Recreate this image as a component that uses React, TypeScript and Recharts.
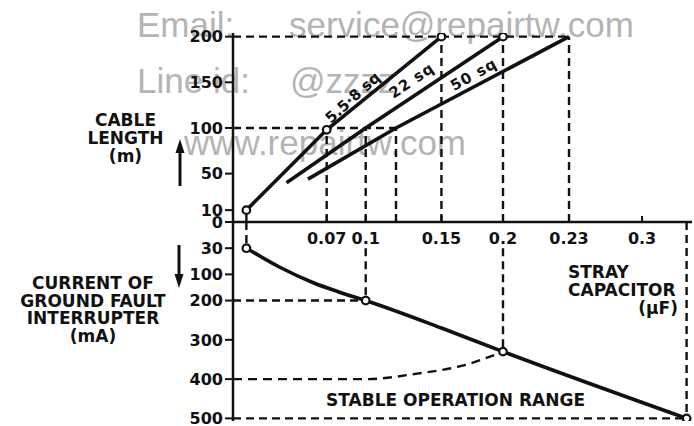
import React from 'react';
import { ComposedChart, Line, Scatter, XAxis, YAxis, ReferenceLine } from 'recharts';

// ---------------- data ----------------
// stray capacitor axis (µF)
const CAP_TICKS = [0.07, 0.1, 0.15, 0.2, 0.23, 0.3];
const CAP_TICK_LABELS = ['0.07', '0.1', '0.15', '0.2', '0.23', '0.3'];
// cable length axis (m)
const LEN_TICKS = [10, 50, 100, 150, 200];
// ground fault interrupter current axis (mA)
const CUR_TICKS = [0, 30, 100, 200, 300, 400, 500];

// cable length vs stray capacitor, per cable size
const CAP_558 = [0.01, 0.07, 0.15];
const LEN_558 = [10, 98, 200];
const CAP_22 = [0.04, 0.1, 0.2];
const LEN_22 = [40, 100, 200];
const CAP_50 = [0.056, 0.12, 0.23];
const LEN_50 = [44, 100, 200];

// interrupter current vs stray capacitor
const CAP_CURRENT = [0.01, 0.035, 0.06, 0.08, 0.1, 0.15, 0.2, 0.333];
const CURRENT_MA = [30, 81, 132, 168, 200, 270, 330, 500];

// boundary of the stable operation range
const CAP_STABLE = [0, 0.1, 0.134, 0.168, 0.2];
const STABLE_MA = [400, 400, 386, 365, 330];

// marked points (open circles)
const MARK_CAP_TOP = [0.01, 0.07, 0.15, 0.2];
const MARK_LEN_TOP = [10, 98, 200, 200];
const MARK_CAP_BOTTOM = [0.01, 0.1, 0.2, 0.333];
const MARK_MA_BOTTOM = [30, 200, 330, 500];

// dashed guide lines
const GUIDE_CAP_TOP = [0.01, 0.07, 0.1, 0.12, 0.15, 0.2, 0.23];
const GUIDE_LEN_TOP = [10, 100, 100, 100, 200, 200, 200];
const GUIDE_LEN_H = [200, 100];
const GUIDE_LEN_H_TO = [0.23, 0.12];
const GUIDE_CAP_BOTTOM = [0.01, 0.1, 0.2, 0.333];
const GUIDE_MA_BOTTOM_FROM = [0, 30, 30, 0];
const GUIDE_MA_BOTTOM = [30, 200, 330, 500];
const GUIDE_MA_H = [200, 500];
const GUIDE_MA_H_TO = [0.1, 0.333];

// ---------------- non-uniform axis scales of the original drawing ----------------
const CAP_STOPS = [0, 0.07, 0.1, 0.15, 0.2, 0.23, 0.3, 0.4];
const CAP_STOP_AT = [0, 0.0694, 0.0983, 0.1544, 0.2, 0.2489, 0.303, 0.403];
const CUR_STOP_AT = [0, 1, 2, 3, 4.5, 6, 7.5];

function interp(v: number, xs: number[], ys: number[]) {
  let i = 0;
  while (i < xs.length - 2 && v > xs[i + 1]) i++;
  const t = (v - xs[i]) / (xs[i + 1] - xs[i]);
  return ys[i] + t * (ys[i + 1] - ys[i]);
}
const capPos = (c: number) => interp(c, CAP_STOPS, CAP_STOP_AT);
const curPos = (m: number) => interp(m, CUR_TICKS, CUR_STOP_AT);

const X_MAX = 0.34;
const LEN_MIN = -3;
const LEN_MAX = 204;
const CUR_SLOT_MAX = 7.6;

const BLACK = '#111';
const FONT = "'DejaVu Sans', sans-serif";

const pairs = (xs: number[], ys: number[], fy: (v: number) => number) =>
  xs.map((c, i) => ({ x: capPos(c), y: fy(ys[i]) }));
const ident = (v: number) => v;

const nearestLabel = (v: number, ticks: number[], labels: string[]) => {
  let best = 0;
  ticks.forEach((t, i) => {
    if (Math.abs(t - v) < Math.abs(ticks[best] - v)) best = i;
  });
  return labels[best];
};

const CAP_TICK_POS = CAP_TICKS.map(capPos);
const CUR_TICK_POS = CUR_TICKS.map(curPos);

const CapTick = (props: any) => {
  const { x, y, payload } = props;
  return (
    <g>
      <line x1={x} x2={x} y1={y} y2={y - 6} stroke={BLACK} strokeWidth={2} />
      <text x={x} y={y + 22} textAnchor="middle" fill={BLACK} fontSize={16} fontWeight="bold" fontFamily={FONT}>
        {nearestLabel(payload.value, CAP_TICK_POS, CAP_TICK_LABELS)}
      </text>
    </g>
  );
};

const OpenCircle = (props: any) => (
  <circle cx={props.cx} cy={props.cy} r={3.8} fill="#fff" stroke={BLACK} strokeWidth={2.2} />
);

const dash = { stroke: BLACK, strokeWidth: 2.4, strokeDasharray: '8 5' };
const tickStyle = { fill: BLACK, fontSize: 16, fontWeight: 'bold', fontFamily: FONT };
const SOLID_W = 3.6;

const abs = (s: React.CSSProperties): React.CSSProperties => ({ position: 'absolute', ...s });

export default function App() {
  const line558 = pairs(CAP_558, LEN_558, ident);
  const line22 = pairs(CAP_22, LEN_22, ident);
  const line50 = pairs(CAP_50, LEN_50, ident);
  const marksTop = pairs(MARK_CAP_TOP, MARK_LEN_TOP, ident);
  const currentLine = pairs(CAP_CURRENT, CURRENT_MA, curPos);
  const stableLine = pairs(CAP_STABLE, STABLE_MA, curPos);
  const marksBottom = pairs(MARK_CAP_BOTTOM, MARK_MA_BOTTOM, curPos);

  const labelStyle: React.CSSProperties = {
    fontFamily: FONT,
    fontWeight: 'bold',
    fontSize: 17,
    color: BLACK,
    whiteSpace: 'nowrap',
  };
  const wm: React.CSSProperties = {
    fontFamily: "'Liberation Sans', Arial, sans-serif",
    fontSize: 35,
    lineHeight: '35px',
    color: '#b4b4b4',
    whiteSpace: 'nowrap',
  };
  const rot = (deg: number): React.CSSProperties => ({
    ...labelStyle,
    fontSize: 15,
    lineHeight: '15px',
    transform: `translate(-50%, -50%) rotate(${deg}deg)`,
  });

  return (
    <div style={abs({ left: 0, top: 0, width: 694, height: 426, background: '#fff', overflow: 'hidden' })}>
      {/* watermark */}
      <div style={abs({ ...wm, left: 137, top: 7 })}>Email:</div>
      <div style={abs({ ...wm, left: 289, top: 7 })}>service@repairtw.com</div>
      <div style={abs({ ...wm, left: 137, top: 63 })}>Line id:</div>
      <div style={abs({ ...wm, left: 290, top: 63 })}>@zzzz</div>
      <div style={abs({ ...wm, left: 184, top: 125 })}>www.repairtw.com</div>

      {/* lower panel: interrupter current */}
      <div style={abs({ left: 0, top: 0 })}>
        <ComposedChart width={694} height={426} margin={{ top: 222, right: 2, bottom: 5, left: 183 }}>
          <XAxis type="number" dataKey="x" domain={[0, X_MAX]} hide allowDataOverflow />
          <YAxis
            type="number"
            dataKey="y"
            reversed
            domain={[0, CUR_SLOT_MAX]}
            ticks={CUR_TICK_POS}
            interval={0}
            width={50}
            tickSize={8}
            tickMargin={2}
            tick={tickStyle}
            tickFormatter={(v: number) => nearestLabel(v, CUR_TICK_POS, CUR_TICKS.map(String))}
            axisLine={{ stroke: BLACK, strokeWidth: 2.5 }}
            tickLine={{ stroke: BLACK, strokeWidth: 2 }}
            allowDataOverflow
          />
          {GUIDE_MA_H.map((m, i) => (
            <ReferenceLine
              key={'mh' + i}
              segment={[{ x: 0, y: curPos(m) }, { x: capPos(GUIDE_MA_H_TO[i]), y: curPos(m) }]}
              {...dash}
            />
          ))}
          {GUIDE_CAP_BOTTOM.map((c, i) => (
            <ReferenceLine
              key={'mv' + i}
              segment={[
                { x: capPos(c), y: curPos(GUIDE_MA_BOTTOM_FROM[i]) },
                { x: capPos(c), y: curPos(GUIDE_MA_BOTTOM[i]) },
              ]}
              {...dash}
            />
          ))}
          <Line
            data={stableLine}
            dataKey="y"
            type="monotone"
            stroke={BLACK}
            strokeWidth={2.4}
            strokeDasharray="9 6"
            dot={false}
            isAnimationActive={false}
          />
          <Line
            data={currentLine}
            dataKey="y"
            type="monotone"
            stroke={BLACK}
            strokeWidth={SOLID_W}
            dot={false}
            isAnimationActive={false}
          />
          <Scatter data={marksBottom} dataKey="y" shape={OpenCircle} isAnimationActive={false} />
        </ComposedChart>
      </div>

      {/* upper panel: cable length */}
      <div style={abs({ left: 0, top: 0 })}>
        <ComposedChart width={694} height={426} margin={{ top: 33, right: 2, bottom: 180, left: 183 }}>
          <XAxis
            type="number"
            dataKey="x"
            domain={[0, X_MAX]}
            ticks={CAP_TICK_POS}
            interval={0}
            height={24}
            tickSize={0}
            tickMargin={0}
            tickLine={false}
            tick={(p: any) => <CapTick {...p} />}
            axisLine={{ stroke: BLACK, strokeWidth: 2.5 }}
            allowDataOverflow
          />
          <YAxis
            type="number"
            dataKey="y"
            domain={[LEN_MIN, LEN_MAX]}
            ticks={LEN_TICKS}
            interval={0}
            width={50}
            tickSize={8}
            tickMargin={2}
            tick={tickStyle}
            axisLine={{ stroke: BLACK, strokeWidth: 2.5 }}
            tickLine={{ stroke: BLACK, strokeWidth: 2 }}
            allowDataOverflow
          />
          {GUIDE_LEN_H.map((l, i) => (
            <ReferenceLine
              key={'lh' + i}
              segment={[{ x: 0, y: l }, { x: capPos(GUIDE_LEN_H_TO[i]), y: l }]}
              {...dash}
            />
          ))}
          {GUIDE_CAP_TOP.map((c, i) => (
            <ReferenceLine
              key={'lv' + i}
              segment={[{ x: capPos(c), y: LEN_MIN }, { x: capPos(c), y: GUIDE_LEN_TOP[i] }]}
              {...dash}
            />
          ))}
          <Line data={line558} dataKey="y" type="linear" stroke={BLACK} strokeWidth={SOLID_W} dot={false} isAnimationActive={false} />
          <Line data={line22} dataKey="y" type="linear" stroke={BLACK} strokeWidth={SOLID_W} dot={false} isAnimationActive={false} />
          <Line data={line50} dataKey="y" type="linear" stroke={BLACK} strokeWidth={SOLID_W} dot={false} isAnimationActive={false} />
          <Scatter data={marksTop} dataKey="y" shape={OpenCircle} isAnimationActive={false} />
        </ComposedChart>
      </div>

      {/* annotations */}
      <div style={abs({ ...labelStyle, left: 65, top: 111, width: 121, textAlign: 'center', lineHeight: '18px' })}>
        CABLE
        <br />
        LENGTH
        <br />
        (m)
      </div>
      <div style={abs({ ...labelStyle, left: 0, top: 275, width: 186, textAlign: 'center', lineHeight: '17.7px' })}>
        CURRENT OF
        <br />
        GROUND FAULT
        <br />
        INTERRUPTER
        <br />
        (mA)
      </div>
      <div style={abs({ ...labelStyle, left: 568, top: 263, width: 110, lineHeight: '18px' })}>
        STRAY
        <br />
        CAPACITOR
        <div style={{ textAlign: 'right' }}>(μF)</div>
      </div>
      <div style={abs({ ...labelStyle, left: 326, top: 391, lineHeight: '18px' })}>STABLE OPERATION RANGE</div>
      <div style={abs({ ...rot(-42), left: 353, top: 98 })}>5.5·8 sq</div>
      <div style={abs({ ...rot(-34), left: 412, top: 81, letterSpacing: 1 })}>22 sq</div>
      <div style={abs({ ...rot(-29), left: 474, top: 75, letterSpacing: 1 })}>50 sq</div>

      {/* direction arrows beside the axis titles */}
      <svg style={abs({ left: 0, top: 0 })} width={694} height={426} pointerEvents="none">
        <line x1={180} y1={186} x2={180} y2={148} stroke={BLACK} strokeWidth={3} />
        <polygon points="180,139 175.5,153 184.5,153" fill={BLACK} />
        <line x1={179} y1={245} x2={179} y2={278} stroke={BLACK} strokeWidth={3} />
        <polygon points="179,288 174.5,274 183.5,274" fill={BLACK} />
      </svg>
    </div>
  );
}
